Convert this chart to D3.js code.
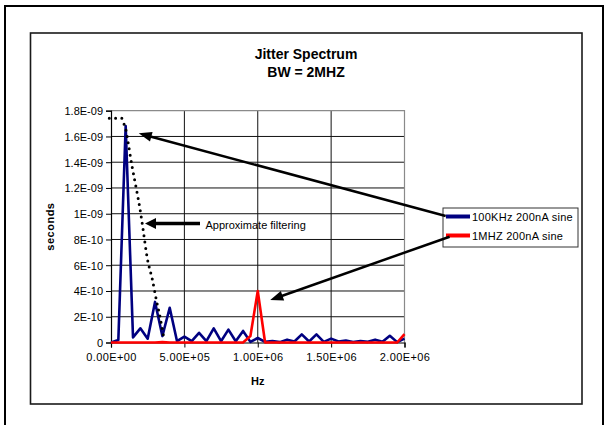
<!DOCTYPE html>
<html>
<head>
<meta charset="utf-8">
<script src="https://cdn.jsdelivr.net/npm/d3@7"></script>
<style>
  html, body { margin: 0; padding: 0; background: #fff; }
  svg { display: block; font-family: Arial, "Liberation Sans", sans-serif; }
</style>
</head>
<body>
<svg id="chart" width="607" height="425"></svg>
<script>
// Frequency bins (Hz), 50 kHz apart
const freqHz = [
  0, 50000, 100000, 150000, 200000, 250000, 300000, 350000, 400000, 450000,
  500000, 550000, 600000, 650000, 700000, 750000, 800000, 850000, 900000, 950000,
  1000000, 1050000, 1100000, 1150000, 1200000, 1250000, 1300000, 1350000, 1400000, 1450000,
  1500000, 1550000, 1600000, 1650000, 1700000, 1750000, 1800000, 1850000, 1900000, 1950000,
  2000000
];

// Jitter (seconds) for the 100 kHz 200 nA sine
const jitter100k = [
  0, 2e-11, 1.68e-9, 4e-11, 1.1e-10, 3e-11, 3.15e-10, 5e-11, 2.7e-10, 1e-11,
  4.5e-11, 1e-11, 7.5e-11, 1e-11, 1.1e-10, 1e-11, 1e-10, 1e-11, 9e-11, 5e-12,
  3.5e-11, 5e-12, 1.2e-11, 3e-12, 2.2e-11, 8e-12, 6.3e-11, 8e-12, 6.3e-11, 5e-12,
  3e-11, 8e-12, 1.5e-11, 3e-12, 1.2e-11, 5e-12, 2.2e-11, 5e-12, 5.2e-11, 3e-12,
  3e-11
];

// Jitter (seconds) for the 1 MHz 200 nA sine
const jitter1M = [
  0, 0, 0, 0, 0, 0, 0, 3e-12, 0, 0,
  0, 0, 0, 0, 0, 0, 0, 0, 0, 5e-11,
  4e-10, 0, 0, 0, 0, 0, 0, 0, 0, 0,
  0, 0, 0, 0, 0, 0, 0, 0, 0, 0,
  6.5e-11
];

// Hand-drawn "approximate filtering" envelope: [Hz, seconds]
const filterHz = [-11600, 72900, 88600, 102000, 115800, 143100, 170400, 197600, 216000, 247400, 281400, 311400, 333900, 356400];
const filterSec = [1.741e-9, 1.741e-9, 1.696e-9, 1.65e-9, 1.559e-9, 1.37e-9, 1.207e-9, 1.037e-9, 8.99e-10, 6.54e-10, 4.91e-10, 3.17e-10, 2.0e-10, 5.8e-11];

const xTicks = [0, 500000, 1000000, 1500000, 2000000];
const xTickLabels = ["0.00E+00", "5.00E+05", "1.00E+06", "1.50E+06", "2.00E+06"];
const yTicks = [0, 2e-10, 4e-10, 6e-10, 8e-10, 1e-9, 1.2e-9, 1.4e-9, 1.6e-9, 1.8e-9];
const yTickLabels = ["0", "2E-10", "4E-10", "6E-10", "8E-10", "1E-09", "1.2E-09", "1.4E-09", "1.6E-09", "1.8E-09"];

const seriesNames = ["100KHz 200nA sine", "1MHZ 200nA sine"];
const seriesColors = ["#000080", "#ff0000"];

const svg = d3.select("#chart");

// Outer page frame and chart frame
svg.append("path")
  .attr("d", "M5,440 L5,6 L603,6 L603,440")
  .attr("fill", "none").attr("stroke", "#000").attr("stroke-width", 2);
svg.append("rect")
  .attr("x", 30.5).attr("y", 33).attr("width", 551.5).attr("height", 371)
  .attr("fill", "#fff").attr("stroke", "#1a1a1a").attr("stroke-width", 1.6);

const plot = { left: 111, right: 404.5, top: 110.7, bottom: 342.5 };
const x = d3.scaleLinear().domain([0, 2000000]).range([plot.left, plot.right]);
const y = d3.scaleLinear().domain([0, 1.8e-9]).range([plot.bottom, plot.top]);

// Grid
const grid = svg.append("g");
grid.selectAll("line.h").data(yTicks.filter(v => v > 0 && v < 1.8e-9)).enter()
  .append("line").attr("class", "h")
  .attr("x1", plot.left).attr("x2", plot.right)
  .attr("y1", d => y(d)).attr("y2", d => y(d))
  .attr("stroke", "#111").attr("stroke-width", 1);
grid.selectAll("line.v").data(xTicks.filter(v => v > 0 && v < 2000000)).enter()
  .append("line").attr("class", "v")
  .attr("x1", d => x(d)).attr("x2", d => x(d))
  .attr("y1", plot.top).attr("y2", plot.bottom)
  .attr("stroke", "#111").attr("stroke-width", 1);
// Plot area border (top / right)
grid.append("path")
  .attr("d", `M${plot.left},${y(1.8e-9)} L${plot.right},${y(1.8e-9)} L${plot.right},${plot.bottom}`)
  .attr("fill", "none").attr("stroke", "#8a8a8a").attr("stroke-width", 1.2);

// Axes
const yAxis = d3.axisLeft(y).tickValues(yTicks).tickSize(5)
  .tickFormat((d, i) => yTickLabels[i]);
const gy = svg.append("g").attr("transform", `translate(${plot.left},0)`).call(yAxis);
const xAxis = d3.axisBottom(x).tickValues(xTicks).tickSize(5)
  .tickFormat((d, i) => xTickLabels[i]);
const gx = svg.append("g").attr("transform", `translate(0,${plot.bottom})`).call(xAxis);
[gx, gy].forEach(g => {
  g.select(".domain").attr("stroke", "#000").attr("stroke-width", 1.2);
  g.selectAll(".tick line").attr("stroke", "#000").attr("stroke-width", 1);
  g.selectAll(".tick text").attr("fill", "#000")
    .attr("font-size", 11).attr("font-family", "Arial, 'Liberation Sans', sans-serif");
});
gy.selectAll(".tick text").attr("x", -8).attr("dy", "0.35em");
gx.selectAll(".tick text").attr("y", 11).attr("dy", "0.71em").attr("letter-spacing", 0.4);

// Series
const line = d3.line().x((d, i) => x(freqHz[i])).y(d => y(d));
[jitter100k, jitter1M].forEach((vals, k) => {
  svg.append("path").datum(vals)
    .attr("d", line)
    .attr("fill", "none")
    .attr("stroke", seriesColors[k])
    .attr("stroke-width", 2.6)
    .attr("stroke-linejoin", "round");
});

// Filtering envelope (dotted)
const envLine = d3.line()
  .x((d, i) => x(filterHz[i])).y(d => y(d))
  .curve(d3.curveMonotoneX);
svg.append("path").datum(filterSec)
  .attr("d", envLine)
  .attr("fill", "none").attr("stroke", "#000")
  .attr("stroke-width", 3).attr("stroke-linecap", "round")
  .attr("stroke-dasharray", "0,6.3");

// Titles
const title = svg.append("text").attr("text-anchor", "middle")
  .attr("font-weight", "bold").attr("font-size", 14).attr("fill", "#000");
title.append("tspan").attr("x", 306).attr("y", 59).text("Jitter Spectrum");
title.append("tspan").attr("x", 306).attr("y", 77).text("BW = 2MHZ");

svg.append("text")
  .attr("x", (plot.left + plot.right) / 2).attr("y", 385)
  .attr("text-anchor", "middle").attr("font-weight", "bold").attr("font-size", 11)
  .text("Hz");
svg.append("text")
  .attr("transform", `translate(54,${(plot.top + plot.bottom) / 2}) rotate(-90)`)
  .attr("text-anchor", "middle").attr("font-weight", "bold").attr("font-size", 11)
  .attr("letter-spacing", 0.5)
  .text("seconds");

// Legend
const legend = svg.append("g");
legend.append("rect")
  .attr("x", 443).attr("y", 208).attr("width", 135).attr("height", 39)
  .attr("fill", "#fff").attr("stroke", "#333").attr("stroke-width", 1);
seriesNames.forEach((name, k) => {
  const ly = 216.5 + k * 19;
  legend.append("line")
    .attr("x1", 446).attr("x2", 470).attr("y1", ly).attr("y2", ly)
    .attr("stroke", seriesColors[k]).attr("stroke-width", 4);
  legend.append("text")
    .attr("x", 472).attr("y", ly + 4.5)
    .attr("font-size", 11).attr("letter-spacing", 0.25).attr("fill", "#000")
    .text(name);
});

// Annotation arrows
function arrow(x1, y1, x2, y2, width, headLen, headHalf) {
  const a = Math.atan2(y2 - y1, x2 - x1);
  const bx = x2 - headLen * Math.cos(a), by = y2 - headLen * Math.sin(a);
  svg.append("line")
    .attr("x1", x1).attr("y1", y1)
    .attr("x2", x2 - (headLen * 0.7) * Math.cos(a)).attr("y2", y2 - (headLen * 0.7) * Math.sin(a))
    .attr("stroke", "#000").attr("stroke-width", width);
  const px = -Math.sin(a) * headHalf, py = Math.cos(a) * headHalf;
  svg.append("polygon")
    .attr("points", `${x2},${y2} ${bx + px},${by + py} ${bx - px},${by - py}`)
    .attr("fill", "#000");
}
arrow(445.7, 216, x(189000), y(1.624e-9), 2.5, 13, 5);
arrow(449.6, 236.7, x(1085000), y(3.3e-10), 2.5, 13, 5);
arrow(200, y(9.25e-10), x(231700), y(9.25e-10), 3.5, 11, 5.5);

svg.append("text")
  .attr("x", 205.5).attr("y", 228.5)
  .attr("font-size", 11).attr("fill", "#000")
  .text("Approximate filtering");
</script>
</body>
</html>
